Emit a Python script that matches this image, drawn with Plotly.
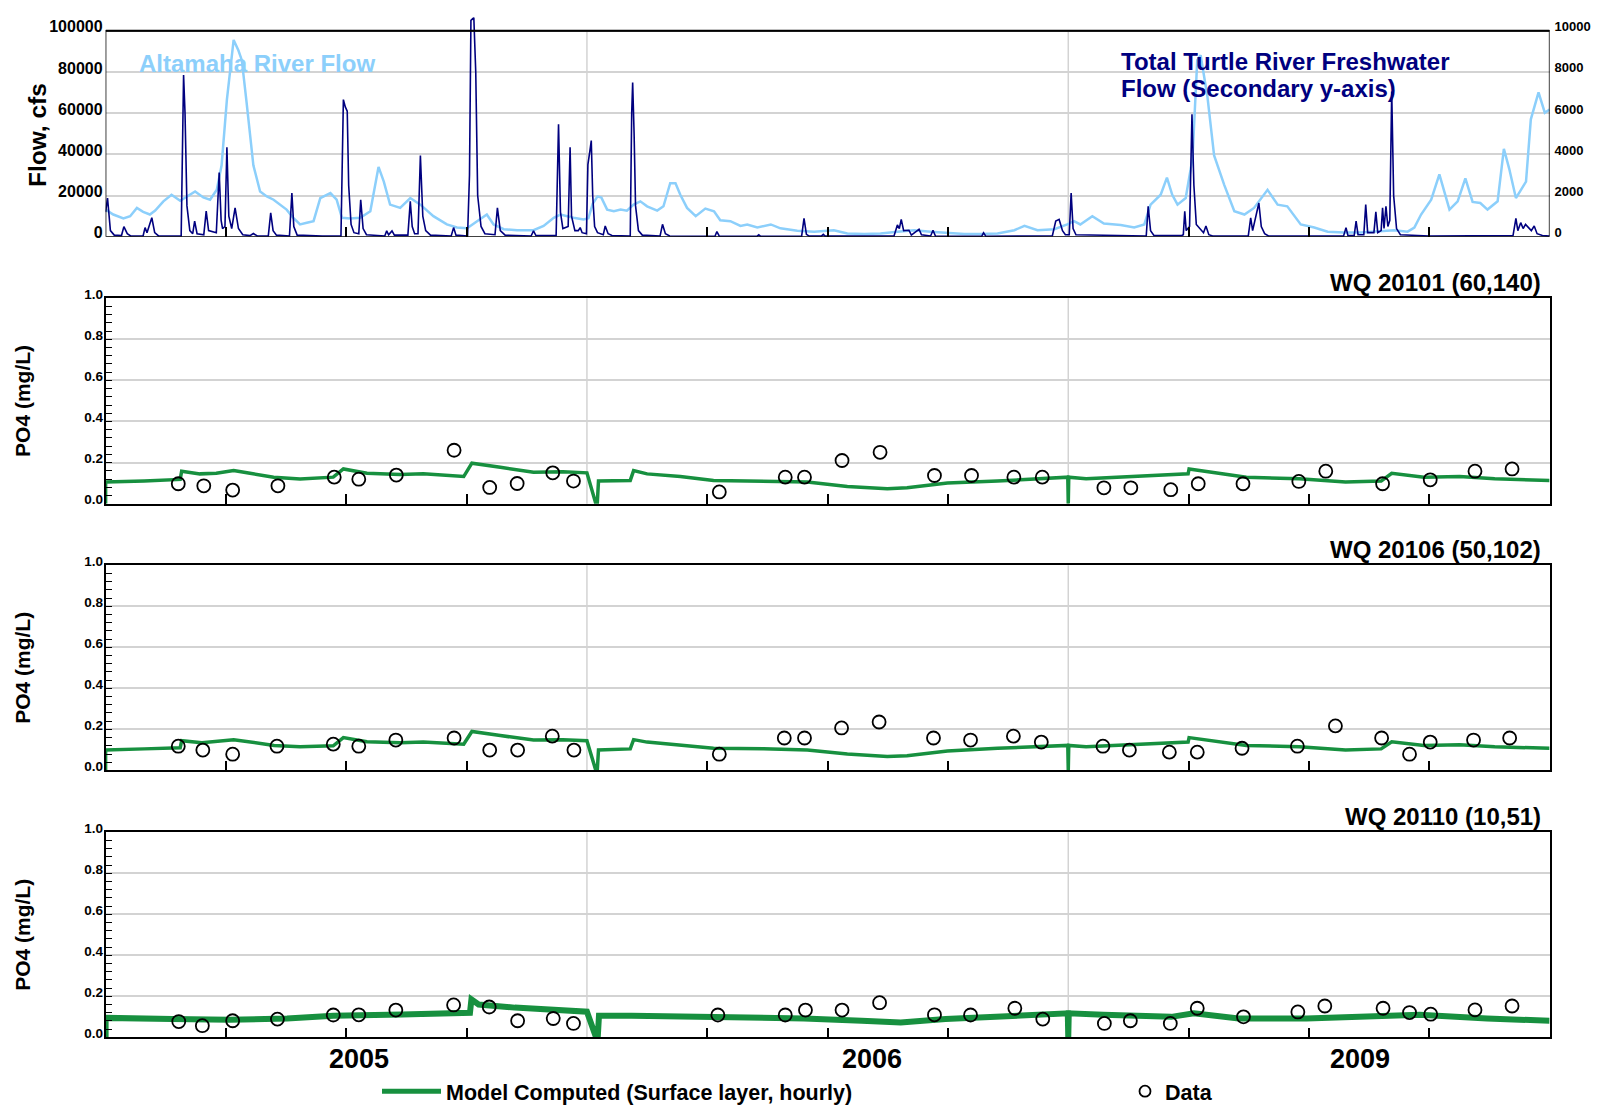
import plotly.graph_objects as go

# ---------------- data (x = position in the three-year time line: 0-1 = 2005, 1-2 = 2006, 2-3 = 2009) -------------
year_labels = ["2005", "2006", "2009"]
year_label_t = [0.526, 1.593, 2.606]
quarter_ticks = [0.25, 0.5, 0.75, 1.25, 1.5, 1.75, 2.25, 2.5, 2.75]
year_bounds = [1.0, 2.0]

altamaha_t = [0.0, 0.016, 0.037, 0.051, 0.065, 0.078, 0.092, 0.103, 0.120, 0.137, 0.155, 0.172, 0.186, 0.203,
              0.217, 0.231, 0.241, 0.252, 0.266, 0.276, 0.283, 0.293, 0.307, 0.321, 0.335, 0.349, 0.363, 0.376,
              0.390, 0.404, 0.418, 0.432, 0.446, 0.467, 0.480, 0.491, 0.508, 0.529, 0.550, 0.567, 0.578, 0.591,
              0.612, 0.633, 0.654, 0.681, 0.709, 0.730, 0.751, 0.772, 0.792, 0.806, 0.827, 0.855, 0.889, 0.910,
              0.931, 0.945, 0.972, 0.993, 1.003, 1.012, 1.022, 1.030, 1.042, 1.056, 1.070, 1.083, 1.097, 1.111,
              1.125, 1.146, 1.159, 1.173, 1.184, 1.194, 1.208, 1.226, 1.246, 1.264, 1.277, 1.298, 1.319, 1.333,
              1.354, 1.382, 1.402, 1.437, 1.472, 1.513, 1.541, 1.576, 1.610, 1.645, 1.680, 1.714, 1.749, 1.784,
              1.818, 1.853, 1.888, 1.909, 1.936, 1.971, 1.998, 2.012, 2.025, 2.050, 2.074, 2.109, 2.137, 2.158,
              2.171, 2.192, 2.205, 2.216, 2.227, 2.244, 2.258, 2.268, 2.275, 2.289, 2.303, 2.324, 2.345, 2.366,
              2.386, 2.414, 2.435, 2.455, 2.483, 2.511, 2.539, 2.573, 2.608, 2.643, 2.677, 2.705, 2.719, 2.733,
              2.754, 2.771, 2.792, 2.809, 2.825, 2.840, 2.856, 2.871, 2.892, 2.905, 2.916, 2.930, 2.951, 2.961,
              2.977, 2.990, 3.000]
altamaha_flow = [13200, 10800, 8900, 10000, 14000, 12100, 10800, 12700, 17200, 20400, 17500, 20100, 22000, 19100,
                 18000, 22800, 34700, 66600, 95500, 90400, 85700, 65000, 34700, 22000, 19600, 18000, 15600, 13200,
                 9200, 6000, 6800, 7600, 18800, 21200, 18000, 9200, 8900, 9200, 12400, 33900, 26800, 15600,
                 14000, 18800, 15600, 10000, 6000, 4500, 4100, 7600, 10800, 6000, 3700, 3200, 3200, 5300,
                 9200, 10800, 9200, 8400, 9000, 16000, 19600, 19000, 13200, 12400, 13200, 12700, 15600, 17200,
                 14800, 12700, 14800, 26000, 26000, 20400, 14000, 10000, 13700, 12400, 8000, 7600, 5300, 6000,
                 4500, 6000, 4100, 2900, 2500, 3200, 1600, 1300, 1600, 2500, 3200, 2500, 1900, 1300,
                 1300, 1600, 3200, 5300, 3200, 3700, 6000, 7600, 6000, 10000, 6400, 5700, 4500, 6000,
                 15600, 20400, 28700, 20400, 15600, 18800, 37900, 85700, 88100, 68200, 39500, 25200, 12400, 10800,
                 14000, 22800, 15600, 14800, 6000, 4500, 2500, 2100, 2100, 2500, 3200, 2500, 4500, 10800,
                 18000, 30300, 13200, 17200, 28300, 16900, 16400, 13200, 17200, 42700, 33100, 18800, 26800, 57000,
                 70100, 60200, 61800]

turtle_t = [0.000, 0.004, 0.010, 0.018, 0.033, 0.038, 0.045, 0.052, 0.078, 0.082, 0.086, 0.096, 0.102, 0.110,
            0.157, 0.160, 0.162, 0.165, 0.169, 0.175, 0.181, 0.185, 0.190, 0.204, 0.209, 0.214, 0.230, 0.236,
            0.240, 0.243, 0.248, 0.252, 0.256, 0.262, 0.269, 0.276, 0.285, 0.300, 0.307, 0.315, 0.338, 0.343,
            0.348, 0.355, 0.382, 0.387, 0.391, 0.398, 0.450, 0.489, 0.492, 0.494, 0.498, 0.502, 0.505, 0.510,
            0.516, 0.526, 0.530, 0.535, 0.542, 0.580, 0.584, 0.588, 0.595, 0.600, 0.628, 0.633, 0.637, 0.642,
            0.649, 0.654, 0.659, 0.665, 0.675, 0.718, 0.723, 0.728, 0.752, 0.756, 0.759, 0.765, 0.769, 0.773,
            0.780, 0.788, 0.809, 0.814, 0.820, 0.830, 0.884, 0.889, 0.894, 0.936, 0.941, 0.945, 0.950, 0.961,
            0.965, 0.968, 0.975, 0.982, 0.986, 0.990, 0.999, 1.002, 1.006, 1.009, 1.012, 1.016, 1.022, 1.034,
            1.038, 1.044, 1.052, 1.090, 1.093, 1.095, 1.098, 1.101, 1.107, 1.115, 1.152, 1.157, 1.163, 1.172,
            1.266, 1.270, 1.275, 1.353, 1.357, 1.361, 1.446, 1.451, 1.456, 1.462, 1.487, 1.491, 1.495, 1.638,
            1.645, 1.649, 1.653, 1.658, 1.669, 1.674, 1.690, 1.695, 1.714, 1.719, 1.724, 1.820, 1.824, 1.829,
            1.967, 1.974, 1.981, 1.988, 1.994, 2.002, 2.006, 2.010, 2.016, 2.162, 2.166, 2.171, 2.178, 2.236,
            2.239, 2.242, 2.245, 2.252, 2.257, 2.261, 2.266, 2.281, 2.286, 2.292, 2.300, 2.374, 2.379, 2.383,
            2.396, 2.401, 2.408, 2.416, 2.572, 2.577, 2.581, 2.594, 2.598, 2.602, 2.614, 2.618, 2.622, 2.635,
            2.639, 2.643, 2.650, 2.653, 2.656, 2.660, 2.664, 2.668, 2.672, 2.676, 2.682, 2.690, 2.750, 2.924,
            2.930, 2.934, 2.940, 2.945, 2.950, 2.962, 2.968, 2.974, 2.985, 3.000]
turtle_flow = [1200, 1880, 300, 80, 60, 494, 150, 40, 50, 446, 200, 924, 200, 40,
               40, 5000, 7850, 6000, 1500, 300, 150, 764, 150, 100, 1242, 300, 200, 3121,
               800, 400, 500, 4347, 1000, 400, 1401, 400, 100, 60, 159, 40, 40, 1162,
               300, 80, 40, 2118, 500, 80, 30, 40, 4000, 6656, 6300, 6099, 2500, 600,
               200, 150, 1799, 400, 100, 40, 287, 100, 287, 80, 80, 1720, 500, 150,
               150, 3949, 1000, 300, 80, 40, 446, 80, 40, 3000, 10500, 10637, 8000, 2000,
               500, 150, 100, 1401, 300, 80, 40, 287, 60, 60, 5462, 1200, 400, 500,
               4347, 1000, 300, 300, 446, 200, 150, 3500, 4140, 4666, 2000, 500, 200, 100,
               525, 150, 60, 40, 6000, 7484, 5000, 1500, 300, 80, 40, 605, 150, 40,
               20, 255, 30, 20, 96, 20, 20, 892, 120, 30, 30, 120, 30, 40,
               573, 400, 844, 300, 318, 80, 366, 100, 40, 318, 40, 20, 191, 20,
               50, 764, 844, 300, 100, 100, 2118, 400, 100, 40, 1481, 300, 60, 60,
               100, 1242, 300, 500, 5939, 2500, 600, 200, 525, 100, 40, 40, 924, 300,
               1640, 500, 150, 40, 40, 446, 60, 60, 764, 100, 100, 1561, 200, 200,
               1210, 200, 300, 1401, 400, 1481, 500, 800, 7054, 2000, 400, 100, 40, 60,
               892, 300, 685, 400, 600, 300, 525, 150, 60, 30]

wq_titles = ["WQ 20101 (60,140)", "WQ 20106 (50,102)", "WQ 20110 (10,51)"]

wq20101_model_t = [0.0, 0.0, 0.08, 0.155, 0.158, 0.196, 0.23, 0.266, 0.30, 0.349, 0.404, 0.473, 0.494, 0.543,
                   0.612, 0.66, 0.744, 0.761, 0.82, 0.889, 0.95, 1.0, 1.021, 1.024, 1.09, 1.097, 1.125, 1.194,
                   1.263, 1.367, 1.458, 1.541, 1.624, 1.665, 1.749, 1.853, 1.957, 1.999, 2.0, 2.001, 2.037,
                   2.148, 2.249, 2.251, 2.296, 2.37, 2.48, 2.576, 2.65, 2.672, 2.739, 2.813, 2.886, 3.0]
wq20101_model_v = [0.0, 0.105, 0.11, 0.118, 0.158, 0.145, 0.148, 0.161, 0.148, 0.129, 0.12, 0.129, 0.169, 0.148,
                   0.142, 0.145, 0.132, 0.197, 0.177, 0.153, 0.155, 0.15, -0.02, 0.11, 0.113, 0.161, 0.145, 0.132,
                   0.113, 0.11, 0.105, 0.084, 0.073, 0.077, 0.1, 0.11, 0.126, 0.129, 0.0, 0.129, 0.121,
                   0.132, 0.145, 0.169, 0.153, 0.129, 0.121, 0.105, 0.11, 0.148, 0.129, 0.132, 0.121, 0.113]
wq20101_obs_t = [0.151, 0.204, 0.264, 0.358, 0.475, 0.526, 0.604, 0.724, 0.798, 0.855, 0.929, 0.972,
                 1.275, 1.412, 1.452, 1.530, 1.609, 1.722, 1.799, 1.887, 1.946,
                 2.074, 2.130, 2.213, 2.270, 2.363, 2.479, 2.535, 2.653, 2.752, 2.845, 2.922]
wq20101_obs_v = [0.097, 0.087, 0.066, 0.087, 0.129, 0.119, 0.139, 0.26, 0.079, 0.098, 0.15, 0.11,
                 0.057, 0.129, 0.129, 0.21, 0.25, 0.137, 0.137, 0.129, 0.129,
                 0.077, 0.077, 0.068, 0.097, 0.097, 0.108, 0.158, 0.097, 0.116, 0.158, 0.169]

wq20106_model_t = [0.0, 0.0, 0.08, 0.155, 0.158, 0.2, 0.266, 0.30, 0.35, 0.404, 0.473, 0.494, 0.543, 0.612,
                   0.66, 0.744, 0.761, 0.82, 0.889, 0.95, 1.0, 1.021, 1.024, 1.09, 1.097, 1.125, 1.194, 1.263,
                   1.367, 1.458, 1.541, 1.624, 1.665, 1.749, 1.853, 1.957, 1.999, 2.0, 2.001, 2.037, 2.148,
                   2.249, 2.251, 2.296, 2.37, 2.48, 2.576, 2.65, 2.672, 2.739, 2.813, 2.886, 3.0]
wq20106_model_v = [0.0, 0.1, 0.105, 0.11, 0.145, 0.135, 0.15, 0.138, 0.122, 0.115, 0.12, 0.16, 0.14, 0.135,
                   0.138, 0.128, 0.19, 0.17, 0.148, 0.15, 0.145, -0.02, 0.1, 0.105, 0.15, 0.138, 0.125, 0.108,
                   0.105, 0.1, 0.08, 0.068, 0.072, 0.095, 0.108, 0.12, 0.122, 0.0, 0.122, 0.115, 0.125,
                   0.138, 0.16, 0.145, 0.122, 0.115, 0.1, 0.105, 0.14, 0.122, 0.125, 0.115, 0.108]
wq20106_obs_t = [0.151, 0.202, 0.264, 0.356, 0.473, 0.526, 0.603, 0.724, 0.798, 0.856, 0.928, 0.973,
                 1.275, 1.410, 1.452, 1.529, 1.607, 1.720, 1.797, 1.886, 1.944,
                 2.072, 2.127, 2.210, 2.268, 2.361, 2.476, 2.555, 2.651, 2.709, 2.752, 2.842, 2.917]
wq20106_obs_v = [0.118, 0.099, 0.079, 0.118, 0.128, 0.118, 0.148, 0.158, 0.099, 0.099, 0.167, 0.099,
                 0.079, 0.158, 0.158, 0.207, 0.236, 0.158, 0.148, 0.167, 0.138,
                 0.118, 0.099, 0.089, 0.089, 0.108, 0.118, 0.217, 0.158, 0.079, 0.138, 0.148, 0.158]

wq20110_model_t = [0.0, 0.0, 0.138, 0.258, 0.377, 0.473, 0.616, 0.735, 0.757, 0.760, 0.775, 0.85, 0.974, 1.0,
                   1.022, 1.025, 1.093, 1.272, 1.451, 1.571, 1.652, 1.745, 1.886, 1.999, 2.0, 2.001, 2.073,
                   2.214, 2.261, 2.354, 2.495, 2.636, 2.73, 2.87, 3.0]
wq20110_model_v = [0.0, 0.095, 0.09, 0.086, 0.092, 0.105, 0.112, 0.118, 0.12, 0.185, 0.16, 0.145, 0.13, 0.125,
                   -0.02, 0.105, 0.105, 0.1, 0.092, 0.081, 0.073, 0.089, 0.105, 0.117, 0.0, 0.117, 0.11,
                   0.1, 0.117, 0.092, 0.092, 0.105, 0.11, 0.092, 0.081]
wq20110_obs_t = [0.152, 0.201, 0.264, 0.357, 0.473, 0.526, 0.603, 0.723, 0.797, 0.856, 0.930, 0.972,
                 1.272, 1.412, 1.454, 1.530, 1.608, 1.722, 1.797, 1.889, 1.947,
                 2.075, 2.129, 2.212, 2.268, 2.364, 2.477, 2.533, 2.654, 2.709, 2.753, 2.845, 2.922]
wq20110_obs_v = [0.077, 0.057, 0.081, 0.089, 0.109, 0.11, 0.133, 0.158, 0.148, 0.081, 0.092, 0.068,
                 0.109, 0.109, 0.133, 0.133, 0.169, 0.11, 0.109, 0.142, 0.089,
                 0.068, 0.081, 0.068, 0.142, 0.1, 0.124, 0.153, 0.142, 0.121, 0.113, 0.134, 0.153]

flow_ticks = [0, 20000, 40000, 60000, 80000, 100000]
flow2_ticks = [0, 2000, 4000, 6000, 8000, 10000]
po4_ticks = [0.0, 0.2, 0.4, 0.6, 0.8, 1.0]

# ---------------- styling ----------------
W, H = 1607, 1112
FONT = "Liberation Sans, Arial, Helvetica, sans-serif"
GREEN = "#17903f"
LIGHTBLUE = "#8ccffb"
NAVY = "#00007f"
GRID = "#d3d3d3"


def py(p):
    return 1 - p / H


xdom = [105.6 / W, 1549.6 / W]
top_dom = [py(229.3), py(6.4)]
wq_doms = [[py(500.3), py(291.7)], [py(771.2), py(562.9)], [py(1042.3), py(834.0)]]

fig = go.Figure()

fig.add_trace(go.Scatter(x=altamaha_t, y=altamaha_flow, mode="lines", line=dict(color=LIGHTBLUE, width=2.5),
                         xaxis="x", yaxis="y", showlegend=False, name="Altamaha River Flow"))
fig.add_trace(go.Scatter(x=turtle_t, y=turtle_flow, mode="lines", line=dict(color=NAVY, width=1.6),
                         xaxis="x", yaxis="y2", showlegend=False, name="Total Turtle River Freshwater Flow"))

models = [(wq20101_model_t, wq20101_model_v, 3.5), (wq20106_model_t, wq20106_model_v, 3.5),
          (wq20110_model_t, wq20110_model_v, 6)]
obs = [(wq20101_obs_t, wq20101_obs_v), (wq20106_obs_t, wq20106_obs_v), (wq20110_obs_t, wq20110_obs_v)]
for i in range(3):
    xa, ya = "x%d" % (i + 2), "y%d" % (i + 3)
    mt, mv, lw = models[i]
    fig.add_trace(go.Scatter(x=mt, y=mv, mode="lines", line=dict(color=GREEN, width=lw),
                             xaxis=xa, yaxis=ya, showlegend=False))
    ot, ov = obs[i]
    fig.add_trace(go.Scatter(x=ot, y=ov, mode="markers",
                             marker=dict(symbol="circle-open", size=13, color="black", line=dict(width=1.8)),
                             xaxis=xa, yaxis=ya, showlegend=False, cliponaxis=False))

# legend entries
fig.add_trace(go.Scatter(x=[None], y=[None], mode="lines", line=dict(color=GREEN, width=5),
                         name="Model Computed (Surface layer, hourly)", xaxis="x4", yaxis="y5", legend="legend"))
fig.add_trace(go.Scatter(x=[None], y=[None], mode="markers",
                         marker=dict(symbol="circle-open", size=11, color="black", line=dict(width=1.8)),
                         name="Data", xaxis="x4", yaxis="y5", legend="legend2"))

xcommon = dict(range=[0, 3], domain=xdom, tickmode="array", tickvals=quarter_ticks, showticklabels=False,
               ticks="inside", ticklen=10, tickwidth=1.5, tickcolor="black", showgrid=False, zeroline=False,
               showline=True, linecolor="black", linewidth=1.5)

layout = dict(width=W, height=H, margin=dict(l=0, r=0, t=0, b=0), plot_bgcolor="white", paper_bgcolor="white",
              font=dict(family=FONT, color="black"))

layout["xaxis"] = dict(xcommon, anchor="y", showline=False)
layout["yaxis"] = dict(domain=top_dom, range=[0, 106500], tickmode="array", tickvals=flow_ticks,
                       ticktext=[str(v) for v in flow_ticks], showgrid=True, gridcolor=GRID, gridwidth=1.5,
                       zeroline=False, showline=False, ticks="", ticklabelstandoff=2, ticklabelshift=-4,
                       tickfont=dict(size=16, weight="bold"))
layout["yaxis2"] = dict(overlaying="y", side="right", anchor="x", range=[0, 10650], tickmode="array",
                        tickvals=flow2_ticks, ticktext=[str(v) for v in flow2_ticks], showgrid=False,
                        zeroline=False, showline=False, ticks="", ticklabelstandoff=4, ticklabelshift=-4,
                        tickfont=dict(size=13, weight="bold"))

for i in range(3):
    xname, yname = "xaxis%d" % (i + 2), "yaxis%d" % (i + 3)
    layout[xname] = dict(xcommon, anchor="y%d" % (i + 3), mirror=True, matches="x")
    layout[yname] = dict(domain=wq_doms[i], range=[0, 1], anchor="x%d" % (i + 2), tickmode="array",
                         tickvals=po4_ticks, ticktext=["%.1f" % v for v in po4_ticks], showgrid=True,
                         gridcolor=GRID, gridwidth=1.5, zeroline=False, showline=True, mirror=True,
                         linecolor="black", linewidth=1.5, ticks="inside", ticklen=7, tickcolor="black",
                         tickwidth=1.2, ticklabelstandoff=-2, ticklabelshift=-4,
                         minor=dict(dtick=0.04, ticks="inside", ticklen=7, tickcolor="black", tickwidth=1.2,
                                    showgrid=False),
                         tickfont=dict(size=13.5, weight="bold"),
                         title=dict(text="PO4 (mg/L)", font=dict(size=21, weight="bold"), standoff=48))
layout["xaxis"]["matches"] = None

shapes = []
# frame of the flow panel at the 100000 level
shapes.append(dict(type="rect", xref="x", yref="y", x0=0, x1=3, y0=0, y1=100000,
                   line=dict(color="black", width=1.5), layer="above"))
shapes.append(dict(type="line", xref="x", yref="y", x0=0, x1=3, y0=100000, y1=100000,
                   line=dict(color="black", width=2), layer="above"))
for b in year_bounds:
    shapes.append(dict(type="line", xref="x", yref="y", x0=b, x1=b, y0=0, y1=100000,
                       line=dict(color=GRID, width=1.5), layer="below"))
    for i in range(3):
        shapes.append(dict(type="line", xref="x%d" % (i + 2), yref="y%d domain" % (i + 3), x0=b, x1=b,
                           y0=0, y1=1, line=dict(color=GRID, width=1.5), layer="below"))
layout["shapes"] = shapes

ann = []
ann.append(dict(text="Flow, cfs", xref="paper", yref="paper", x=37.5 / W, y=py(126.5), xanchor="center",
                yanchor="middle", textangle=-90, showarrow=False, font=dict(size=24.5, weight="bold")))
ann.append(dict(text="Altamaha River Flow", xref="paper", yref="paper", x=137 / W, y=py(53.3), xanchor="left",
                yanchor="middle", showarrow=False, font=dict(size=24, color=LIGHTBLUE, weight="bold")))
ann.append(dict(text="Total Turtle River Freshwater", xref="paper", yref="paper", x=1119 / W, y=py(51),
                xanchor="left", yanchor="middle", showarrow=False, font=dict(size=24, color=NAVY, weight="bold")))
ann.append(dict(text="Flow (Secondary y-axis)", xref="paper", yref="paper", x=1119 / W, y=py(78.5),
                xanchor="left", yanchor="middle", showarrow=False, font=dict(size=24, color=NAVY, weight="bold")))
for title, ypx in zip(wq_titles, [275.7, 546.9, 818.0]):
    ann.append(dict(text=title, xref="paper", yref="paper", x=1543 / W, y=py(ypx), xanchor="right",
                    yanchor="middle", showarrow=False, font=dict(size=24, weight="bold")))
for lab, t in zip(year_labels, year_label_t):
    ann.append(dict(text=lab, xref="x4", yref="paper", x=t, y=py(1064), xanchor="center", yanchor="middle",
                    showarrow=False, font=dict(size=27, weight="bold")))
layout["annotations"] = ann

layout["legend"] = dict(x=377 / W, y=py(1097), xanchor="left", yanchor="middle", orientation="h",
                        bgcolor="rgba(0,0,0,0)", font=dict(size=21.5, weight="bold"), itemwidth=59)
layout["legend2"] = dict(x=1125 / W, y=py(1097), xanchor="left", yanchor="middle", orientation="h",
                         bgcolor="rgba(0,0,0,0)", font=dict(size=21.5, weight="bold"))

fig.update_layout(**layout)
fig.write_html("out.html")
